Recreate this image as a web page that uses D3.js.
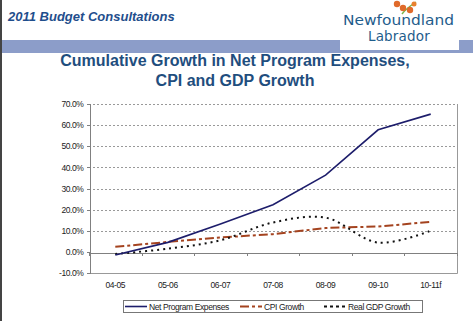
<!DOCTYPE html>
<html>
<head>
<meta charset="utf-8">
<script src="https://cdn.jsdelivr.net/npm/d3@7"></script>
<style>
  body { margin: 0; background: #fff; }
  svg { display: block; font-family: "Liberation Sans", Arial, sans-serif; }
  .grid line { stroke: #999; stroke-dasharray: 2,2; shape-rendering: crispEdges; }
  .axis path, .axis line { stroke: #808080; shape-rendering: crispEdges; }
  .axis text { fill: #222; font-size: 8.5px; letter-spacing: -0.4px; }
</style>
</head>
<body>
<svg id="chart" width="473" height="321"></svg>
<script>
const categories = ['04-05', '05-06', '06-07', '07-08', '08-09', '09-10', '10-11f'];
const netProgram = [-1.5, 4.5, 13.2, 22.3, 36.3, 57.8, 65.2];
const cpiGrowth = [2.4, 4.7, 6.8, 8.4, 11.3, 12.0, 14.2];
const gdpGrowth = [-1.0, 1.5, 5.5, 13.9, 16.2, 4.4, 10.0];
const yTicks = [-10, 0, 10, 20, 30, 40, 50, 60, 70];
const seriesNames = ['Net Program Expenses', 'CPI Growth', 'Real GDP Growth'];

const svg = d3.select('#chart');
const plot = { left: 89, right: 457, top: 104, bottom: 273 };

// page frame
svg.append('rect').attr('x', 0).attr('y', 0).attr('width', 2).attr('height', 321).attr('fill', '#444');
svg.append('rect').attr('x', 2).attr('y', 40).attr('width', 471).attr('height', 13).attr('fill', '#8c9dc9');

svg.append('text')
  .attr('x', 8).attr('y', 21)
  .attr('font-size', '13px').attr('font-weight', 'bold').attr('font-style', 'italic')
  .attr('fill', '#1f4e8c')
  .text('2011 Budget Consultations');

// logo
const logo = svg.append('g');
logo.append('rect').attr('x', 340).attr('y', 0).attr('width', 119).attr('height', 50).attr('fill', '#fff');
logo.append('path').attr('d', 'M402,14 C405,10 410,6 416,2').attr('stroke', '#7ab648').attr('stroke-width', 1.5).attr('fill', 'none');
logo.append('circle').attr('cx', 397).attr('cy', 4).attr('r', 3.2).attr('fill', '#e06a2a');
logo.append('circle').attr('cx', 403).attr('cy', 8).attr('r', 3.2).attr('fill', '#e06a2a');
logo.append('circle').attr('cx', 410).attr('cy', 10).attr('r', 3.2).attr('fill', '#e06a2a');
logo.append('circle').attr('cx', 414).attr('cy', 4).attr('r', 2.5).attr('fill', '#e8802e');
logo.append('text').attr('x', 343).attr('y', 25)
  .attr('font-family', '"DejaVu Sans", sans-serif').attr('font-size', '13.5px').attr('fill', '#1f5d8c')
  .attr('textLength', 111).attr('lengthAdjust', 'spacingAndGlyphs').text('Newfoundland');
logo.append('text').attr('x', 399).attr('y', 41).attr('text-anchor', 'middle')
  .attr('font-family', '"DejaVu Sans", sans-serif').attr('font-size', '13.5px').attr('fill', '#1f5d8c')
  .attr('letter-spacing', '0.2px').text('Labrador');

// title
const title = svg.append('text').attr('text-anchor', 'middle')
  .attr('font-size', '16px').attr('font-weight', 'bold').attr('fill', '#1f4e7e');
title.append('tspan').attr('x', 235).attr('y', 66).text('Cumulative Growth in Net Program Expenses,');
title.append('tspan').attr('x', 235).attr('y', 86).text('CPI and GDP Growth');

// scales
const x = d3.scaleBand().domain(categories).range([plot.left, plot.right]);
const y = d3.scaleLinear().domain([-10, 70]).range([plot.bottom, plot.top]);

// gridlines
svg.append('g').attr('class', 'grid')
  .selectAll('line').data(yTicks.filter(d => d > 0))
  .enter().append('line')
  .attr('x1', plot.left).attr('x2', plot.right)
  .attr('y1', d => Math.round(y(d)) + 0.5).attr('y2', d => Math.round(y(d)) + 0.5);

// plot frame (right and bottom)
svg.append('path')
  .attr('d', `M${plot.right + 0.5},${plot.top} V${Math.round(plot.bottom) + 0.5} H${plot.left}`)
  .attr('stroke', '#999').attr('fill', 'none');

// y axis
svg.append('g').attr('class', 'axis')
  .attr('transform', `translate(${plot.left + 0.5},0)`)
  .call(d3.axisLeft(y).tickValues(yTicks).tickSize(3).tickPadding(3)
    .tickFormat(d => d.toFixed(1) + '%'));

// x axis on zero line
const xAxis = d3.axisBottom(x).tickSize(3).tickFormat('');
const xg = svg.append('g').attr('class', 'axis')
  .attr('transform', `translate(0,${Math.round(y(0)) + 0.5})`)
  .call(xAxis);
xg.selectAll('.tick').attr('transform', d => `translate(${x(d) + 0.5},0)`);
xg.select('.tick').remove();

svg.append('g').attr('class', 'axis')
  .selectAll('text').data(categories).enter().append('text')
  .attr('x', d => x(d) + x.bandwidth() / 2).attr('y', 288)
  .attr('text-anchor', 'middle')
  .text(d => d);

// lines
const cx = (d, i) => x(categories[i]) + x.bandwidth() / 2;
const straight = d3.line().x(cx).y(d => y(d));
const smooth = d3.line().x(cx).y(d => y(d)).curve(d3.curveCatmullRom.alpha(0.5));

svg.append('path').datum(cpiGrowth).attr('d', straight)
  .attr('fill', 'none').attr('stroke', '#a4431f').attr('stroke-width', 2)
  .attr('stroke-dasharray', '9,3,3,3');
svg.append('path').datum(gdpGrowth).attr('d', smooth)
  .attr('fill', 'none').attr('stroke', '#111').attr('stroke-width', 2)
  .attr('stroke-dasharray', '2,4');
svg.append('path').datum(netProgram).attr('d', straight)
  .attr('fill', 'none').attr('stroke', '#1d1d6b').attr('stroke-width', 1.6);

// legend
const legend = svg.append('g');
legend.append('rect').attr('x', 123.5).attr('y', 300.5).attr('width', 299).attr('height', 12)
  .attr('fill', '#fff').attr('stroke', '#777');
const legendItems = [
  { name: seriesNames[0], x: 125, color: '#1d1d6b', dash: null, w: 1.6 },
  { name: seriesNames[1], x: 240, color: '#a4431f', dash: '9,3,3,3', w: 2 },
  { name: seriesNames[2], x: 324, color: '#111', dash: '3,3', w: 2 }
];
legendItems.forEach(it => {
  legend.append('line').attr('x1', it.x).attr('x2', it.x + 22).attr('y1', 306.5).attr('y2', 306.5)
    .attr('stroke', it.color).attr('stroke-width', it.w).attr('stroke-dasharray', it.dash);
  legend.append('text').attr('x', it.x + 24).attr('y', 309.5)
    .attr('font-size', '8.5px').attr('letter-spacing', '-0.4px').attr('fill', '#222')
    .text(it.name);
});
</script>
</body>
</html>
